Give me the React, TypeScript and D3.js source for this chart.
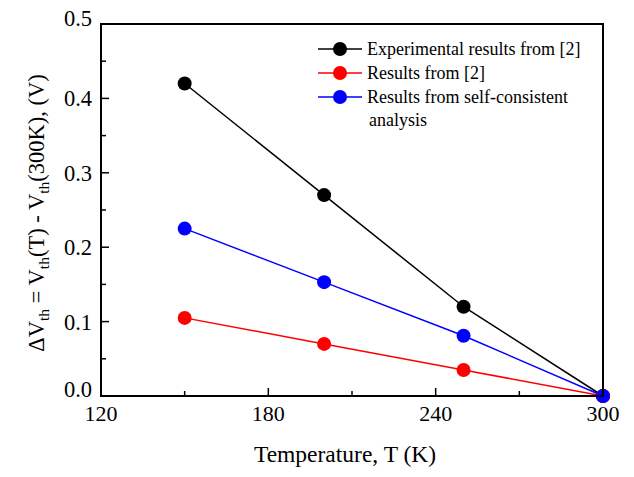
import React from "react";
import * as d3 from "d3";

const temps = [150, 200, 250, 300];
const experimental = [0.42, 0.27, 0.12, 0.0];
const ref2 = [0.105, 0.07, 0.035, 0.0];
const selfConsistent = [0.225, 0.153, 0.081, 0.0];
const seriesNames = ["Experimental results from [2]", "Results from [2]", "Results from self-consistent"];
const seriesColors = ["#000000", "#ff0000", "#0000ff"];
const xTicks = [120, 180, 240, 300];
const yTicks = [0.0, 0.1, 0.2, 0.3, 0.4, 0.5];

const W = 634, H = 477;
const L = 101, R = 603, T = 24, B = 396;

export default function App() {
  const x = d3.scaleLinear().domain([120, 300]).range([L, R]);
  const y = d3.scaleLinear().domain([0, 0.5]).range([B, T]);
  const line = d3.line<[number, number]>().x(d => x(d[0])).y(d => y(d[1]));
  const series = [experimental, ref2, selfConsistent];
  const drawOrder = [0, 1, 2];
  const xMinor = d3.range(120, 301, 30);
  const yMinor = d3.range(0, 0.501, 0.05);
  const font = "Liberation Serif";
  const ts = { fontFamily: font };
  return (
    <div style={{ position: "absolute", left: 0, top: 0 }}>
      <svg width={W} height={H} style={{ display: "block", background: "#fff", fontFamily: font }}>
        <rect x={0} y={0} width={W} height={H} fill="#fff" />
        {drawOrder.map(i => (
          <path key={"l" + i} d={line(temps.map((t, j) => [t, series[i][j]] as [number, number])) || ""}
            fill="none" stroke={seriesColors[i]} strokeWidth={1.5} />
        ))}
        {drawOrder.map(i => temps.map((t, j) => (
          <circle key={"c" + i + "-" + j} cx={x(t)} cy={y(series[i][j])} r={7} fill={seriesColors[i]} />
        )))}
        {xMinor.map(v => (
          <line key={"xt" + v} x1={x(v)} x2={x(v)} y1={B} y2={B - (v % 60 === 0 ? 8 : 5)} stroke="#000" strokeWidth={1.5} />
        ))}
        {yMinor.map(v => {
          const major = Math.abs(Math.round(v * 10) - v * 10) < 1e-6;
          return <line key={"yt" + v} x1={L} x2={L + (major ? 8 : 5)} y1={y(v)} y2={y(v)} stroke="#000" strokeWidth={1.5} />;
        })}
        <rect x={L} y={T} width={R - L} height={B - T} fill="none" stroke="#000" strokeWidth={2} />
        {xTicks.map(v => (
          <text key={"xl" + v} style={ts} x={x(v)} y={B + 25} textAnchor="middle" fontSize={22}>{v}</text>
        ))}
        {yTicks.map((v, i) => {
          const shift = i === 0 ? -7 : i === yTicks.length - 1 ? -6 : 0;
          return (
            <text key={"yl" + v} style={ts} x={L - 9} y={y(v) + 8 + shift} textAnchor="end" fontSize={22.5}>{v.toFixed(1)}</text>
          );
        })}
        <text style={ts} x={345} y={462} textAnchor="middle" fontSize={23.5}>Temperature, T (K)</text>
        <text style={ts} transform={`translate(44, 213) rotate(-90)`} textAnchor="middle" fontSize={22.5}>
          ΔV<tspan fontSize={15.5} dy={5}>th</tspan><tspan dy={-5}> = V</tspan><tspan fontSize={15.5} dy={5}>th</tspan><tspan dy={-5}>(T) - V</tspan><tspan fontSize={15.5} dy={5}>th</tspan><tspan dy={-5}>(300K), (V)</tspan>
        </text>
        {seriesNames.map((n, i) => {
          const ly = 49 + i * 24;
          return (
            <g key={"lg" + i}>
              <line x1={318} x2={362} y1={ly} y2={ly} stroke={seriesColors[i]} strokeWidth={1.5} />
              <circle cx={340} cy={ly} r={7} fill={seriesColors[i]} />
              <text style={ts} x={367} y={ly + 6} fontSize={18}>{n}</text>
            </g>
          );
        })}
        <text style={ts} x={369} y={49 + 3 * 24 + 5} fontSize={18}>analysis</text>
      </svg>
    </div>
  );
}
